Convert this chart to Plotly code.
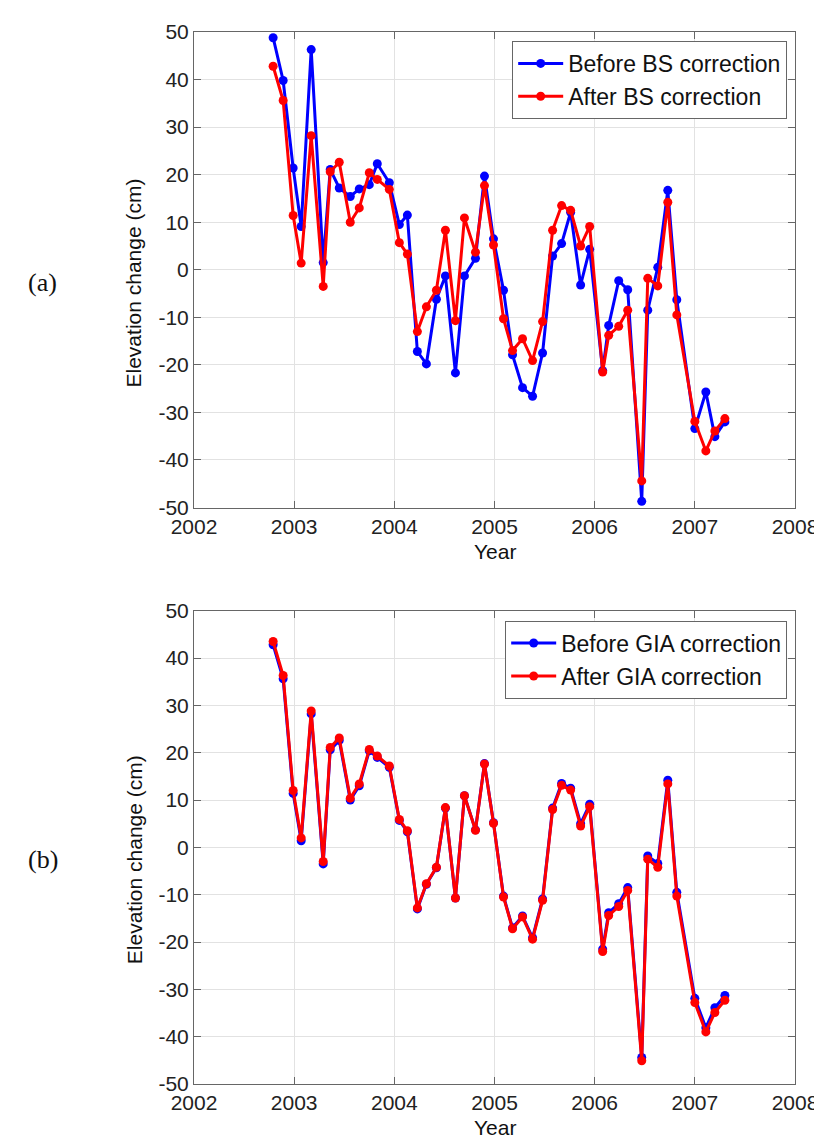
import plotly.graph_objects as go

# epochs (decimal year)
years = [2002.79, 2002.89, 2002.99, 2003.07, 2003.17, 2003.29, 2003.36, 2003.45,
         2003.56, 2003.65, 2003.75, 2003.83, 2003.95, 2004.05, 2004.13, 2004.23,
         2004.32, 2004.42, 2004.51, 2004.61, 2004.70, 2004.81, 2004.90, 2004.99,
         2005.09, 2005.18, 2005.28, 2005.38, 2005.48, 2005.58, 2005.67, 2005.76,
         2005.86, 2005.95, 2006.08, 2006.14, 2006.24, 2006.33, 2006.47, 2006.53,
         2006.63, 2006.73, 2006.82, 2007.00, 2007.11, 2007.20, 2007.30]

# (a) before / after backscatter correction
before_bs = [48.8, 39.8, 21.4, 9.1, 46.3, 1.5, 21.1, 17.2,
             15.4, 17.0, 17.9, 22.3, 18.3, 9.5, 11.5, -17.2,
             -19.8, -6.2, -1.3, -21.7, -1.3, 2.4, 19.7, 6.5,
             -4.3, -17.9, -24.8, -26.6, -17.5, 2.9, 5.5, 12.1,
             -3.2, 4.3, -21.2, -11.7, -2.3, -4.2, -48.7, -8.5,
             0.5, 16.7, -6.3, -33.4, -25.7, -35.1, -32.0]
after_bs = [42.8, 35.6, 11.4, 1.4, 28.2, -3.5, 20.6, 22.6,
            10.0, 13.0, 20.4, 19.0, 16.9, 5.7, 3.3, -13.0,
            -7.8, -4.3, 8.3, -10.7, 10.9, 3.7, 17.7, 5.2,
            -10.3, -17.0, -14.5, -19.1, -10.9, 8.3, 13.5, 12.5,
            5.0, 9.1, -21.5, -13.8, -11.9, -8.5, -44.4, -1.8,
            -3.4, 14.2, -9.5, -31.9, -38.1, -33.9, -31.3]

# (b) before / after GIA correction
before_gia = after_bs
after_gia = [43.5, 36.3, 12.0, 2.0, 28.8, -3.0, 21.1, 23.1,
             10.4, 13.4, 20.7, 19.3, 17.2, 5.9, 3.5, -12.8,
             -7.7, -4.2, 8.4, -10.7, 10.9, 3.6, 17.6, 5.1,
             -10.5, -17.2, -14.7, -19.4, -11.2, 8.0, 13.1, 12.1,
             4.5, 8.6, -22.0, -14.4, -12.5, -9.1, -45.1, -2.5,
             -4.2, 13.4, -10.3, -32.8, -39.0, -34.9, -32.3]

# tick labels (plain hyphen minus, like the original)
y_ticks = [-50, -40, -30, -20, -10, 0, 10, 20, 30, 40, 50]
y_labels = ["-50", "-40", "-30", "-20", "-10", "0", "10", "20", "30", "40", "50"]
x_ticks = [2002, 2003, 2004, 2005, 2006, 2007, 2008]
x_labels = ["2002", "2003", "2004", "2005", "2006", "2007", "2008"]

BLUE = "#0000ff"
RED = "#ff0000"
FONT = "Liberation Sans, Arial, Helvetica, sans-serif"
SERIF = "Liberation Serif, Times New Roman, serif"

def trace(y, name, color, xa, ya, legend):
    return go.Scatter(x=years, y=y, name=name, mode="lines+markers",
                      line=dict(color=color, width=3),
                      marker=dict(color=color, size=9),
                      xaxis=xa, yaxis=ya, legend=legend)

fig = go.Figure()
fig.add_trace(trace(before_bs, "Before BS correction", BLUE, "x", "y", "legend"))
fig.add_trace(trace(after_bs, "After BS correction", RED, "x", "y", "legend"))
fig.add_trace(trace(before_gia, "Before GIA correction", BLUE, "x2", "y2", "legend2"))
fig.add_trace(trace(after_gia, "After GIA correction", RED, "x2", "y2", "legend2"))

common = dict(ticks="inside", ticklen=7, tickcolor="#666", showline=True,
              linecolor="#666", linewidth=1, mirror="ticks", showgrid=True,
              gridcolor="#e2e2e2", zeroline=False,
              tickfont=dict(size=21, color="#222"))
xax = dict(common, range=[2002, 2008], tickvals=x_ticks, ticktext=x_labels)
yax = dict(common, range=[-50, 50], tickvals=y_ticks, ticktext=y_labels)

leg = dict(xanchor="right", yanchor="top", bgcolor="white",
           bordercolor="#666", borderwidth=1, itemwidth=45,
           font=dict(size=23, color="#111", family=FONT))

fig.update_layout(
    width=822, height=1139,
    margin=dict(l=186, r=29, t=18, b=63),
    paper_bgcolor="white", plot_bgcolor="white",
    font=dict(family=FONT, color="#222"),
    xaxis=dict(xax, domain=[0, 1], anchor="y"),
    yaxis=dict(yax, domain=[0.548, 1.0], anchor="x"),
    xaxis2=dict(xax, domain=[0, 1], anchor="y2"),
    yaxis2=dict(yax, domain=[0.0, 0.4499], anchor="x2"),
    legend=dict(leg, x=0.987, y=0.9915),
    legend2=dict(leg, x=0.987, y=0.4405),
    showlegend=True,
)

ann = [
    dict(text="Elevation change (cm)", x=-0.100, y=0.7618, angle=-90, size=21, fam=FONT, ya="middle"),
    dict(text="Elevation change (cm)", x=-0.100, y=0.2136, angle=-90, size=21, fam=FONT, ya="middle"),
    dict(text="Year", x=0.5, y=0.5189, angle=0, size=21, fam=FONT, ya="top"),
    dict(text="Year", x=0.5, y=-0.0284, angle=0, size=21, fam=FONT, ya="top"),
    dict(text="(a)", x=-0.252, y=0.7618, angle=0, size=26, fam=SERIF, ya="middle"),
    dict(text="(b)", x=-0.252, y=0.2136, angle=0, size=26, fam=SERIF, ya="middle"),
]
for a in ann:
    fig.add_annotation(text=a["text"], x=a["x"], y=a["y"], xref="paper", yref="paper",
                       showarrow=False, textangle=a["angle"],
                       xanchor="center", yanchor=a["ya"],
                       font=dict(size=a["size"], family=a["fam"], color="#111"))

fig.write_html("out.html")
